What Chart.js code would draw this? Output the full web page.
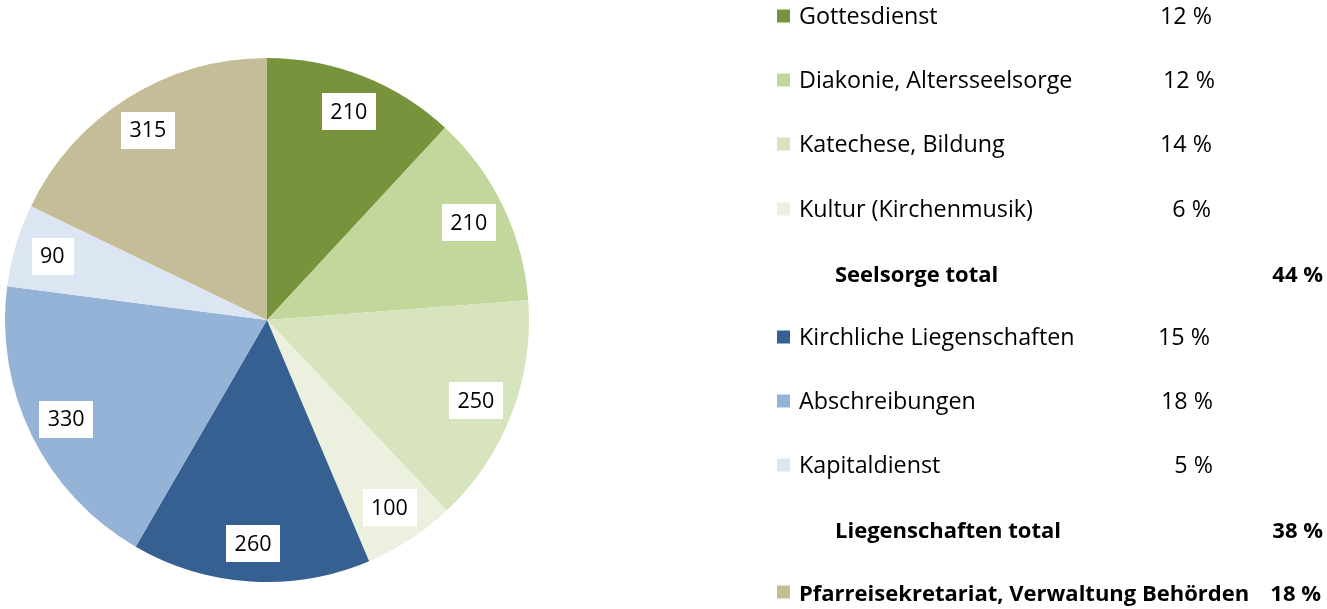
<!DOCTYPE html>
<html>
<head>
<meta charset="utf-8">
<script src="https://cdn.jsdelivr.net/npm/chart.js@4"></script>
<style>
  html, body { margin: 0; padding: 0; background: #fff; }
  #wrap { position: relative; width: 1327px; height: 609px; overflow: hidden; }
  #c { position: absolute; left: 0; top: 0; }
  .row { position: absolute; font-family: "Open Sans", sans-serif; font-size: 23.3px; color: #000; line-height: 1; white-space: nowrap; transform: translateY(-50%); }
  .sw { position: absolute; width: 13px; height: 13px; transform: translateY(-50%); }
  .b { font-weight: bold; font-size: 22px; }
  .pct { text-align: right; }
</style>
</head>
<body>
<div id="wrap">
  <canvas id="c" width="1327" height="609"></canvas>
  <div id="legend"></div>
</div>
<script>
// ---- data ----
const categories = [
  "Gottesdienst",
  "Diakonie, Altersseelsorge",
  "Katechese, Bildung",
  "Kultur (Kirchenmusik)",
  "Kirchliche Liegenschaften",
  "Abschreibungen",
  "Kapitaldienst",
  "Pfarreisekretariat, Verwaltung Behörden"
];
const values = [210, 210, 250, 100, 260, 330, 90, 315];
const colors = ["#77933C", "#C3D69B", "#D7E4BD", "#EBF1DE", "#376092", "#95B3D7", "#DCE6F2", "#C4BD97"];
const percentLabels = ["12 %", "12 %", "14 %", "6 %", "15 %", "18 %", "5 %", "18 %"];
const totalLabels = ["Seelsorge total", "Liegenschaften total"];
const totalValues = ["44 %", "38 %"];

// ---- legend layout (HTML text) ----
const rowY = [16, 80, 144, 209, 337, 401, 465, 592];
const pctRight = [1212, 1215, 1212, 1211, 1210, 1213, 1213, 1321];
const totalY = [273, 529];
const legend = document.getElementById('legend');
function add(html, cls, style) {
  const d = document.createElement('div');
  d.className = cls; d.innerHTML = html; Object.assign(d.style, style); legend.appendChild(d);
  return d;
}
categories.forEach((cat, i) => {
  const bold = i === 7 ? ' b' : '';
  add('', 'sw', { left: '777px', top: rowY[i] + 'px', background: colors[i] });
  add(cat, 'row' + bold, { left: '799px', top: rowY[i] + 'px' });
  add(percentLabels[i], 'row pct' + bold, { right: (1327 - pctRight[i]) + 'px', top: rowY[i] + 'px' });
});
totalLabels.forEach((t, i) => {
  add(t, 'row b', { left: '835px', top: totalY[i] + 'px' });
  add(totalValues[i], 'row b pct', { right: (1327 - 1323) + 'px', top: totalY[i] + 'px' });
});

// ---- value label plugin ----
const boxLabels = {
  id: 'boxLabels',
  afterDatasetsDraw(chart) {
    const ctx = chart.ctx;
    const meta = chart.getDatasetMeta(0);
    ctx.save();
    ctx.font = '21.5px "Open Sans", sans-serif';
    ctx.textAlign = 'center';
    ctx.textBaseline = 'middle';
    meta.data.forEach((arc, i) => {
      const mid = (arc.startAngle + arc.endAngle) / 2;
      const r = arc.outerRadius * 0.855;
      const x = arc.x + Math.cos(mid) * r;
      const y = arc.y + Math.sin(mid) * r;
      const txt = String(values[i]);
      const w = ctx.measureText(txt).width + 17;
      const h = 37;
      ctx.fillStyle = '#fff';
      ctx.fillRect(Math.round(x - w / 2), Math.round(y - h / 2), Math.round(w), h);
      ctx.fillStyle = '#000';
      ctx.fillText(txt, x, y + 1);
    });
    ctx.restore();
  }
};

new Chart(document.getElementById('c'), {
  type: 'pie',
  data: {
    labels: categories,
    datasets: [{ data: values, backgroundColor: colors, borderWidth: 0 }]
  },
  options: {
    responsive: false,
    animation: false,
    layout: { padding: { left: 5, right: 798, top: 58, bottom: 27 } },
    plugins: { legend: { display: false }, tooltip: { enabled: false } }
  },
  plugins: [boxLabels]
});
</script>
</body>
</html>
